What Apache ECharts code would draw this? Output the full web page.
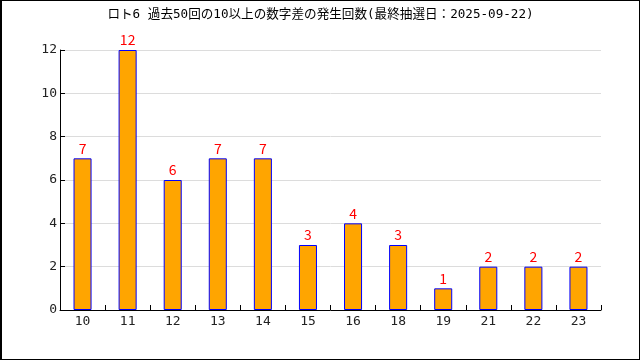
<!DOCTYPE html>
<html><head><meta charset="utf-8">
<script src="https://cdn.jsdelivr.net/npm/echarts@6/dist/echarts.min.js"></script>
<style>
html,body{margin:0;padding:0;background:#fff;}
#c{width:640px;height:360px;box-sizing:border-box;border:1px solid #000;border-left:2px solid #000;}
</style></head>
<body><div id="c"></div>
<script>
const titleText = 'ロト6 過去50回の10以上の数字差の発生回数(最終抽選日：2025-09-22)';
const categories = ['10','11','12','13','14','15','16','18','19','21','22','23'];
const counts = [7,12,6,7,7,3,4,3,1,2,2,2];
const yTicks = [0,2,4,6,8,10,12];

const chart = echarts.init(document.getElementById('c'), null, {renderer:'canvas'});
const font = '"DejaVu Sans Mono", "Noto Sans CJK JP", monospace';
chart.setOption({
  animation:false,
  title:{text:titleText,left:'center',top:2,textStyle:{fontSize:12.6,fontWeight:'normal',color:'#000',fontFamily:font}},
  grid:{left:58,right:38,top:49,bottom:49,containLabel:false},
  xAxis:{type:'category',data:categories,boundaryGap:true,
    axisLine:{lineStyle:{color:'#000',width:1}},
    axisTick:{show:true,inside:true,length:5,lineStyle:{color:'#000'}},
    axisLabel:{color:'#222',fontSize:13,fontFamily:font,margin:5},
    splitLine:{show:false}},
  yAxis:{type:'value',min:yTicks[0],max:yTicks[yTicks.length-1],interval:2,
    axisLine:{show:true,lineStyle:{color:'#000',width:1}},
    axisTick:{show:true,inside:true,length:5,lineStyle:{color:'#000'}},
    axisLabel:{color:'#222',fontSize:13,fontFamily:font,margin:3},
    splitLine:{show:true,lineStyle:{color:'#dcdcdc',width:1}}},
  series:[{type:'bar',data:counts,barWidth:'40%',
    itemStyle:{color:'#FFA500',borderColor:'#0000FF',borderWidth:1},
    label:{show:true,position:'top',color:'#FF0000',fontSize:14,fontFamily:'"Noto Sans CJK JP", sans-serif',distance:3}}]
});
</script></body></html>
